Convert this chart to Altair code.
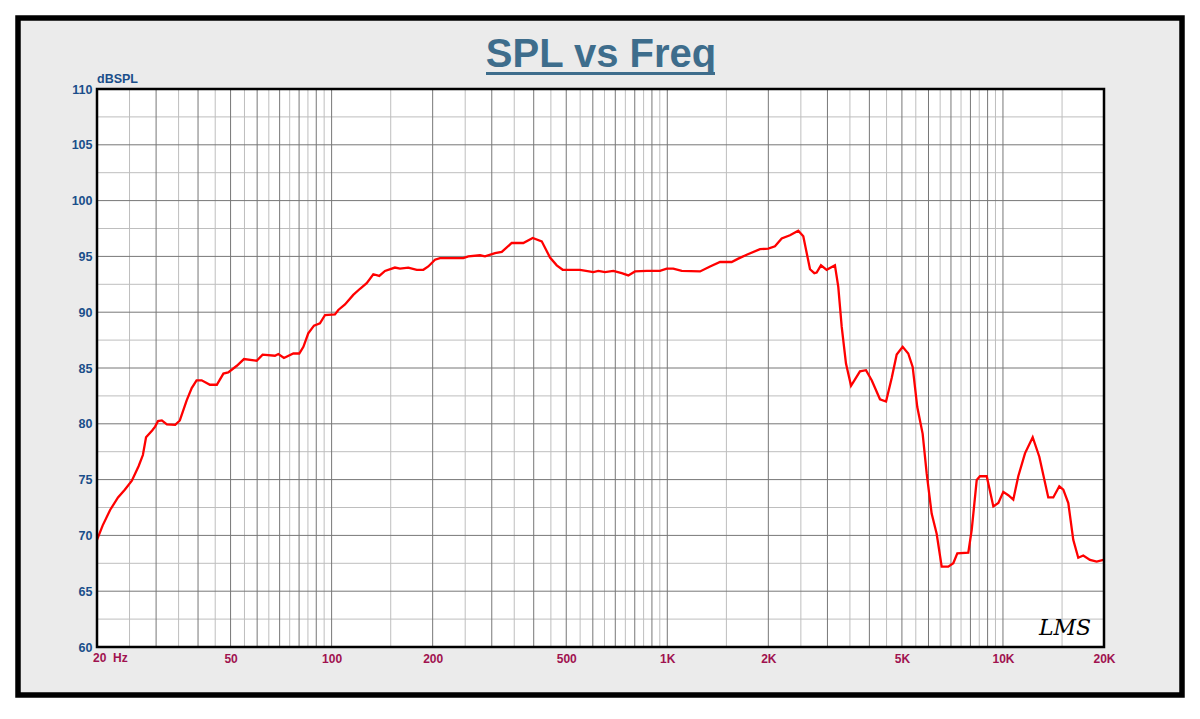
import altair as alt
import pandas as pd

# ---- data ----
freq_hz = [20, 20.8, 21.9, 23.1, 24.2, 25.4, 26.6, 27.4, 28.0, 29.2, 29.8, 30.4, 31.2, 32.3,
           34.2, 35.3, 37.0, 38.3, 39.6, 41.0, 43.4, 45.5, 47.6, 49.2, 52.2, 54.8, 59.8, 62.3,
           67.8, 69.4, 72.1, 76.9, 80.1, 82.4, 85.2, 88.6, 92.3, 95.6, 102.3, 104.7, 109.6, 116,
           121.5, 127.2, 133.1, 138.7, 144.2, 154.4, 159.8, 169.2, 179.3, 187.6, 194.1, 203.2,
           210.3, 246.8, 255.4, 276.7, 286.4, 306.8, 321.3, 344.0, 372.4, 397.3, 422.6, 447.4,
           468.4, 488.0, 549.6, 602.1, 623.0, 652.4, 690.6, 731.5, 765.4, 801.4, 868.2, 951.2,
           996, 1042, 1104, 1252, 1341, 1436, 1555, 1628, 1724, 1889, 1999, 2093, 2192, 2320,
           2456, 2542, 2662, 2742, 2786, 2870, 2984, 3158, 3231, 3308, 3407, 3527, 3750, 3908,
           4064, 4302, 4484, 4662, 4824, 5026, 5222, 5383, 5556, 5765, 5926, 6132, 6346, 6568,
           6873, 7113, 7312, 7884, 8071, 8353, 8543, 8946, 9362, 9689, 10024, 10373, 10734,
           11108, 11632, 12263, 12832, 13646, 14122, 14720, 15128, 15656, 16198, 16761, 17350,
           18166, 19020, 19900, 20000]
spl_db = [69.6, 70.9, 72.3, 73.4, 74.1, 74.9, 76.2, 77.2, 78.8, 79.4, 79.75, 80.25, 80.3, 79.95,
          79.9, 80.3, 82.1, 83.2, 83.9, 83.9, 83.5, 83.5, 84.5, 84.6, 85.2, 85.8, 85.65, 86.2,
          86.1, 86.25, 85.9, 86.3, 86.3, 86.9, 88.1, 88.8, 89.0, 89.75, 89.8, 90.2, 90.7, 91.55,
          92.1, 92.6, 93.4, 93.25, 93.7, 94.0, 93.9, 94.0, 93.8, 93.8, 94.1, 94.7,
          94.85, 94.85, 95.0, 95.1, 95.0, 95.3, 95.4, 96.2, 96.2, 96.65, 96.35, 94.9,
          94.2, 93.8, 93.8, 93.6, 93.7, 93.6, 93.7, 93.5, 93.3, 93.65, 93.7, 93.7,
          93.9, 93.9, 93.7, 93.65, 94.1, 94.5, 94.5, 94.8, 95.15, 95.65, 95.7, 95.9, 96.6, 96.9,
          97.3, 96.8, 93.85, 93.5, 93.55, 94.2, 93.8, 94.2, 92.3, 88.7, 85.4, 83.4, 84.7, 84.8,
          83.9, 82.2, 82.0, 84.1, 86.2, 86.9, 86.3, 85.1, 81.5, 79.1, 75.55, 71.95, 70.15, 67.2,
          67.2, 67.5, 68.4, 68.45, 70.5, 74.96, 75.3, 75.3, 72.6, 72.9, 73.9, 73.6, 73.2,
          75.3, 77.35, 78.8, 77.05, 73.4, 73.4, 74.4, 74.1, 72.9, 69.6, 68.0, 68.2,
          67.8, 67.65, 67.8, 67.8]

x_tick_values = [50, 100, 200, 500, 1000, 2000, 5000, 10000, 20000]
x_tick_labels = ["50", "100", "200", "500", "1K", "2K", "5K", "10K", "20K"]
y_tick_values = [60, 65, 70, 75, 80, 85, 90, 95, 100, 105, 110]

grid_major_f = [30, 40, 50, 60, 70, 80, 90, 100, 200, 300, 400, 500, 600, 700, 800, 900,
                1000, 2000, 3000, 4000, 5000, 6000, 7000, 8000, 9000, 10000]
grid_minor_f = [25, 35, 45, 55, 65, 75, 85, 95, 150, 250, 350, 450, 550, 650, 750, 850, 950,
                1500, 2500, 3500, 4500, 5500, 6500, 7500, 8500, 9500, 15000]
grid_major_db = [65, 70, 75, 80, 85, 90, 95, 100, 105]
grid_minor_db = [62.5, 67.5, 72.5, 77.5, 82.5, 87.5, 92.5, 97.5, 102.5, 107.5]

W, H = 1007, 558
FONT = "Liberation Sans"

xscale = alt.Scale(type="log", domain=[20, 20000], nice=False)
yscale = alt.Scale(domain=[60, 110], nice=False, zero=False)

curve = pd.DataFrame({"f": freq_hz, "db": spl_db})
label_map = "{" + ",".join(f"'{v}':'{l}'" for v, l in zip(x_tick_values, x_tick_labels)) + "}"

xaxis = alt.Axis(values=x_tick_values, labelExpr=f"{label_map}[datum.value + '']",
                 grid=False, ticks=False, domain=False, labelFont=FONT,
                 labelFontSize=12, labelFontWeight="bold", labelColor="#A0124F",
                 labelPadding=6, labelFlush=False, labelOverlap=False, zindex=2, title=None)
yaxis = alt.Axis(values=y_tick_values, grid=False, ticks=False, domain=False,
                 labelFont=FONT, labelFontSize=12.5, labelFontWeight="bold",
                 labelColor="#1A4E8A", labelPadding=5, labelFlush=False,
                 labelOverlap=False, zindex=2, title=None)


def X(field):
    return alt.X(field, scale=xscale, axis=xaxis, title=None)


def Y(field):
    return alt.Y(field, scale=yscale, axis=yaxis, title=None)


frame = alt.Chart(pd.DataFrame({"a": [0]})).mark_rect(
    fill="#EBEBEB", stroke="black", strokeWidth=5.5
).encode(x=alt.value(-79), x2=alt.value(1085), y=alt.value(-71), y2=alt.value(606))

plotbg = alt.Chart(pd.DataFrame({"a": [0]})).mark_rect(fill="white").encode(
    x=alt.value(0), x2=alt.value(W), y=alt.value(0), y2=alt.value(H))

vmin = alt.Chart(pd.DataFrame({"f": grid_minor_f})).mark_rule(color="#BEBEBE", strokeWidth=1).encode(
    x=X("f:Q"))
vmaj = alt.Chart(pd.DataFrame({"f": grid_major_f})).mark_rule(color="#777777", strokeWidth=1).encode(
    x=X("f:Q"))
hmin = alt.Chart(pd.DataFrame({"db": grid_minor_db})).mark_rule(color="#BEBEBE", strokeWidth=1).encode(
    y=Y("db:Q"))
hmaj = alt.Chart(pd.DataFrame({"db": grid_major_db})).mark_rule(color="#777777", strokeWidth=1).encode(
    y=Y("db:Q"))

line = alt.Chart(curve).mark_line(color="#FF0000", strokeWidth=2.3).encode(
    x=X("f:Q"), y=Y("db:Q"))

hz_label = alt.Chart(pd.DataFrame({"f": [20], "t": ["20\u00a0\u00a0Hz"]})).mark_text(
    align="left", baseline="top", dx=-4, font=FONT, fontSize=12, fontWeight="bold", color="#A0124F"
).encode(x=X("f:Q"), y=alt.value(H + 6), text="t:N")

border = alt.Chart(pd.DataFrame({"a": [0]})).mark_rect(
    fill=None, stroke="black", strokeWidth=2.5
).encode(x=alt.value(0), x2=alt.value(W), y=alt.value(0), y2=alt.value(H))

title = alt.Chart(pd.DataFrame({"t": ["SPL vs Freq"]})).mark_text(
    align="center", baseline="alphabetic", font=FONT, fontSize=40, fontWeight="bold",
    color="#3E6D8C"
).encode(x=alt.value(504), y=alt.value(-22), text="t:N")

underline = alt.Chart(pd.DataFrame({"a": [0]})).mark_rule(color="#3E6D8C", strokeWidth=3).encode(
    x=alt.value(389), x2=alt.value(618), y=alt.value(-15.5))

ylab = alt.Chart(pd.DataFrame({"t": ["dBSPL"]})).mark_text(
    align="left", baseline="middle", font=FONT, fontSize=12.5, fontWeight="bold", color="#1A4E8A"
).encode(x=alt.value(0), y=alt.value(-10), text="t:N")

lms = alt.Chart(pd.DataFrame({"t": ["LMS"]})).mark_text(
    align="center", baseline="middle", font="DejaVu Serif", fontSize=22, fontStyle="italic",
    color="black"
).encode(x=alt.value(968), y=alt.value(539), text="t:N")

chart = alt.layer(frame, plotbg, hmin, vmin, hmaj, vmaj, line, hz_label, border,
                  title, underline, ylab, lms).properties(
    width=W, height=H,
    padding={"left": 89, "top": 81, "right": 88, "bottom": 55},
    autosize=alt.AutoSizeParams(type="none"),
    background="white",
).configure_view(stroke=None, fill=None)

chart.save("out.html", embed_options={"renderer": "svg", "actions": False})
